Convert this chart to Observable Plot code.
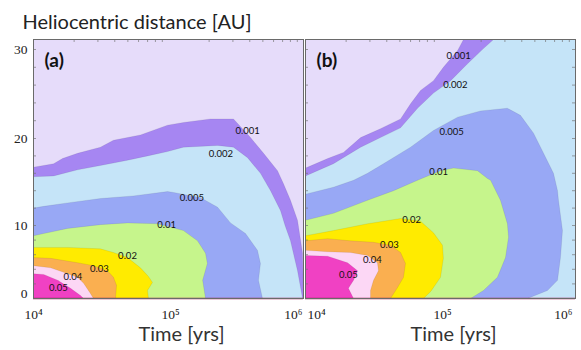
<!DOCTYPE html>
<html><head><meta charset="utf-8">
<script src="https://cdn.jsdelivr.net/npm/d3@7"></script>
<script src="https://cdn.jsdelivr.net/npm/@observablehq/plot@0.6"></script>
<style>
body{margin:0;background:#fff;}
#wrap{position:relative;width:581px;height:350px;overflow:hidden;}
#wrap svg{position:absolute;top:0;overflow:visible;}
</style></head>
<body><div id="wrap"></div>
<script>
// contour levels (fraction), colours of regions above each level
const levels = ["0.001","0.002","0.005","0.01","0.02","0.03","0.04","0.05"];
const colors = ["#a686f2","#c5e4f8","#98a8f5","#c6f58c","#ffeb00","#faaf50","#fcd7f5","#f041c3"];
const background = "#e6dcfa";

// axis values
const yTicks = [0, 10, 20, 30];
const yTop = 31.1;
const xTicks = [1e4, 1e5, 1e6];
const xTickLabels = ["10⁴", "10⁵", "10⁶"];

// panel (a) contour boundaries: [time (yr), distance (AU)]
const a001 = [[1e4,16.7],[1.41e4,17.1],[1.64e4,17.7],[2.12e4,18.3],[3.13e4,19.0],[3.91e4,19.8],[6.2e4,20.4],[9.84e4,21.5],[1.29e5,21.8],[2.05e5,22.2],[3.03e5,22.2],[4.05e5,20.1],[5.06e5,18.3],[6.42e5,16.3],[7.11e5,14.8],[8.01e5,12.9],[9.03e5,10.6],[9.84e5,6.2],[1e6,0]];
const a002 = [[1e4,15.6],[1.41e4,15.7],[2.12e4,16.4],[3.13e4,16.9],[4.97e4,17.5],[6.99e4,18.0],[9.84e4,18.5],[1.29e5,19.0],[2.31e5,19.2],[3.03e5,19.0],[3.85e5,17.8],[4.8e5,16.0],[5.7e5,14.0],[6.76e5,11.7],[7.3e5,10.0],[8.01e5,7.9],[9.03e5,3.8],[9.84e5,0]];
const a005 = [[1e4,12.0],[1.19e4,12.2],[1.79e4,12.6],[3.13e4,13.1],[5.5e4,13.4],[9.84e4,13.9],[1.09e5,13.8],[1.73e5,13.2],[2.31e5,12.1],[2.88e5,10.3],[3.72e5,8.9],[4.56e5,6.6],[4.8e5,4.8],[4.64e5,2.5],[4.97e5,0]];
const a01 = [[1e4,8.6],[1.19e4,8.9],[1.79e4,9.6],[3.13e4,10.1],[4.97e4,10.3],[8.29e4,10.2],[1.29e5,9.3],[1.64e5,7.9],[1.88e5,6.2],[1.94e5,4.8],[1.79e5,2.5],[1.88e5,0]];
const a02 = [[1e4,7.0],[1.79e4,7.0],[3.13e4,6.8],[3.91e4,6.3],[4.97e4,5.6],[6.2e4,4.2],[7.11e4,3.0],[7.61e4,2.2],[6.99e4,1.1],[7.11e4,0]];
const a03 = [[1e4,5.6],[1.34e4,5.5],[2.12e4,4.9],[2.78e4,4.5],[3.53e4,3.8],[3.91e4,2.9],[4.12e4,1.8],[4.05e4,0]];
const a04 = [[1e4,4.5],[1.34e4,4.2],[1.67e4,3.6],[2.12e4,2.9],[2.35e4,2.1],[2.64e4,0.7],[2.78e4,0]];
const a05 = [[1e4,3.4],[1.19e4,3.3],[1.51e4,2.5],[1.88e4,1.4],[2.23e4,0.4],[2.35e4,0]];
const aLabels = [[3.85e5,20.8],[2.44e5,18.2],[1.49e5,13.2],[9.7e4,10.1],[4.97e4,5.8],[3.08e4,4.0],[1.96e4,2.9],[1.53e4,1.4]];

// panel (b) contour boundaries
const b001 = [[1e4,16.6],[1.46e4,17.7],[1.91e4,18.4],[2.56e4,20.1],[3.59e4,21.1],[5.06e4,22.2],[6.0e4,23.9],[7.11e4,25.4],[8.87e4,26.5],[1.05e5,28.0],[1.34e5,29.9],[1.48e5,31.1]];
const b002 = [[1e4,15.7],[1.61e4,17.1],[2.56e4,19.0],[3.59e4,20.1],[5.06e4,21.2],[6.76e4,23.4],[8.87e4,25.1],[1.19e5,26.5],[1.585e5,28.4],[2.08e5,30.1],[2.47e5,31.1]];
const b005 = [[1e4,13.6],[1.61e4,14.4],[2.27e4,15.2],[2.88e4,16.0],[3.78e4,17.1],[6.0e4,19.0],[8.87e4,20.9],[1.34e5,22.4],[1.98e5,23.1],[3.13e5,23.4],[3.91e5,22.6],[4.89e5,20.6],[5.8e5,18.3],[6.87e5,16.0],[7.36e5,14.0],[7.48e5,12.9],[8.01e5,9.3],[7.74e5,5.6],[7.36e5,2.5],[6.2e5,1.1],[4.41e5,0]];
const b01 = [[1e4,10.6],[1.61e4,11.4],[2.88e4,12.9],[4.49e4,14.0],[6.76e4,15.2],[1e5,16.3],[1.25e5,16.6],[1.88e5,16.3],[2.23e5,15.4],[2.35e5,15.2],[2.78e5,12.9],[3.13e5,10.2],[3.19e5,8.4],[3.03e5,5.6],[2.64e5,2.9],[2.08e5,1.1],[1.67e5,0]];
const b02 = [[1e4,8.6],[1.61e4,9.3],[2.88e4,10.2],[5.06e4,10.8],[7.11e4,10.5],[8.87e4,9.0],[1.035e5,7.3],[1.05e5,5.5],[1e5,2.9],[8.5e4,1.0],[7.48e4,0]];
const b03 = [[1e4,7.9],[1.46e4,8.2],[2.15e4,7.9],[3.19e4,7.7],[4.26e4,7.3],[5.06e4,6.3],[5.5e4,4.8],[5.32e4,2.9],[4.8e4,1.5],[4.26e4,0]];
const b04 = [[1e4,6.6],[1.46e4,6.4],[2.15e4,6.3],[2.88e4,5.9],[3.41e4,4.9],[3.47e4,3.8],[3.19e4,2.5],[3.03e4,1.1],[3.03e4,0]];
const b05 = [[1e4,5.9],[1.46e4,5.8],[2.05e4,4.9],[2.43e4,3.8],[2.27e4,2.5],[2.08e4,1.4],[2.27e4,0]];
const bLabels = [[1.36e5,29.3],[1.29e5,26.0],[1.21e5,20.7],[9.67e4,16.1],[6.1e4,10.6],[4.19e4,7.4],[3.13e4,5.3],[2.08e4,3.2]];

const panelA = [a001,a002,a005,a01,a02,a03,a04,a05];
const panelB = [b001,b002,b005,b01,b02,b03,b04,b05];

const xMinor = [];
for (const dec of [1e4, 1e5]) for (let k = 2; k <= 9; k++) xMinor.push(k * dec);
const yMinor = d3.range(0, 31, 2);

function polygon(pts) {
  const rows = pts.map(([t, y]) => ({t, y}));
  const last = rows[rows.length - 1];
  if (last.y >= yTop) rows.push({t: 1e6, y: yTop});
  return [{t: 1e4, y: 0}, ...rows, {t: rows[rows.length - 1].t, y: 0}];
}

const serif = "'Liberation Serif', serif";
const sans = "Lato, 'Open Sans', sans-serif";

function panel({curves, labels, tag, width, left, xRange, first}) {
  const frameW = xRange[1] - xRange[0];
  const marks = [Plot.frame({fill: background})];
  curves.forEach((c, i) => {
    marks.push(Plot.line(polygon(c), {x: "t", y: "y", fill: colors[i], stroke: "#000", strokeOpacity: 0.12, strokeWidth: 0.6}));
  });
  marks.push(Plot.ruleY([0], {stroke: "#a8285e", strokeWidth: 1.6}));
  marks.push(Plot.tickX(xMinor, {x: d => d, insetBottom: 256, stroke: "#777", strokeWidth: 0.7}));
  marks.push(Plot.tickY(yMinor, {y: d => d, insetRight: frameW - 3, stroke: "#777", strokeWidth: 0.7}));
  if (!first) marks.push(Plot.tickY(yMinor, {y: d => d, insetLeft: frameW - 3, stroke: "#777", strokeWidth: 0.7}));
  marks.push(Plot.frame({stroke: "#6a6a6a", strokeWidth: 1}));
  marks.push(Plot.text(labels, {x: d => d[0], y: d => d[1], text: (d, i) => levels[i], fontSize: 9.5, fontFamily: sans, fill: "#111"}));
  marks.push(Plot.text([tag], {frameAnchor: "top-left", dx: 11, dy: 27, lineAnchor: "bottom", textAnchor: "start", fontSize: 19, fontWeight: "bold", fontFamily: sans, fill: "#111"}));
  // x tick labels
  const anchors = first ? [["middle", 0], ["middle", 2], ["end", -1]] : [["start", 2], ["middle", 2], ["end", -3]];
  xTicks.forEach((t, i) => {
    marks.push(Plot.text([t], {x: d => d, text: () => xTickLabels[i], frameAnchor: "bottom", dy: 20, dx: anchors[i][1], lineAnchor: "bottom", textAnchor: anchors[i][0], fontSize: 13.5, fontFamily: serif, fill: "#222"}));
  });
  marks.push(Plot.text(["Time [yrs]"], {frameAnchor: "bottom-left", dx: 148, dy: 42, lineAnchor: "bottom", textAnchor: "middle", fontSize: 20, fontFamily: sans, fill: "#333"}));
  if (first) {
    marks.push(Plot.text(yTicks.filter(d => d > 0), {y: d => d, text: d => String(d), frameAnchor: "left", dx: -6, textAnchor: "end", fontSize: 13.5, fontFamily: serif, fill: "#222"}));
    marks.push(Plot.text(yTicks.filter(d => d === 0), {y: d => d, text: d => String(d), frameAnchor: "left", dx: -6, dy: -5, textAnchor: "end", fontSize: 13.5, fontFamily: serif, fill: "#222"}));
    marks.push(Plot.text(["Heliocentric distance [AU]"], {frameAnchor: "top-left", dx: -11, dy: -11, lineAnchor: "bottom", textAnchor: "start", fontSize: 20, fontFamily: sans, fill: "#222"}));
  }
  const svg = Plot.plot({
    width, height: 350,
    marginLeft: xRange[0], marginRight: width - xRange[1], marginTop: 39, marginBottom: 52,
    x: {type: "log", domain: [1e4, 1e6], range: xRange, axis: null},
    y: {type: "linear", domain: [0, 10, 20, 30, yTop], range: [298, 225, 138, 49, 39], axis: null},
    style: {background: "transparent", overflow: "visible"},
    marks
  });
  svg.style.left = left + "px";
  return svg;
}

const wrap = document.getElementById("wrap");
wrap.appendChild(panel({curves: panelA, labels: aLabels, tag: "(a)", width: 305, left: 0, xRange: [33, 303], first: true}));
wrap.appendChild(panel({curves: panelB, labels: bLabels, tag: "(b)", width: 277, left: 304, xRange: [1, 271], first: false}));
</script>
</body></html>
